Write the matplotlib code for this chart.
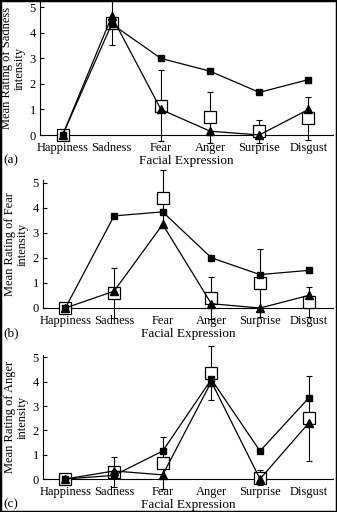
import numpy as np
import matplotlib.pyplot as plt
from matplotlib.patches import Rectangle

plt.rcParams["font.family"] = ["Liberation Serif", "DejaVu Serif"]

expressions = ["Happiness", "Sadness", "Fear", "Anger", "Surprise", "Disgust"]
yticks = [0, 1, 2, 3, 4, 5]

# (a) sadness intensity
sad_filled = [0, 4.35, 3.0, 2.5, 1.67, 2.17]
sad_triangle = [0, 4.65, 1.0, 0.15, 0.0, 1.0]
sad_open = [0, 4.4, 1.15, 0.7, 0.15, 0.65]
sad_err = [0, 0.87, 1.4, 1.0, 0.45, 0.85]

# (b) fear intensity
fear_filled = [0, 3.67, 3.83, 2.0, 1.33, 1.5]
fear_triangle = [0, 0.67, 3.33, 0.17, 0.0, 0.5]
fear_open = [0, 0.6, 4.4, 0.4, 1.0, 0.25]
fear_err = [0, 1.0, 1.1, 0.85, 1.37, 0.6]

# (c) anger intensity
ang_filled = [0, 0.15, 1.15, 4.1, 1.15, 3.33]
ang_triangle = [0, 0.33, 0.17, 4.0, 0.0, 2.3]
ang_open = [0, 0.3, 0.65, 4.35, 0.05, 2.5]
ang_err = [0, 0.62, 1.07, 1.1, 0.3, 1.75]

W, H = 337, 512
fig = plt.figure(figsize=(W / 100, H / 100), dpi=100)

# panel layout in pixels: left, right, y of zero line, y of top, ylim top
panels = [
    ("(a)", "Sadness", sad_filled, sad_triangle, sad_open, sad_err, 40, 333, 135, 1, 5.25),
    ("(b)", "Fear", fear_filled, fear_triangle, fear_open, fear_err, 43, 333, 308, 180, 5.1),
    ("(c)", "Anger", ang_filled, ang_triangle, ang_open, ang_err, 43, 333, 479, 355, 5.1),
]

x = np.arange(len(expressions))
for tag, emo, filled, tri, opn, err, lpx, rpx, y0px, ytpx, ytop in panels:
    ax = fig.add_axes([lpx / W, 1 - y0px / H, (rpx - lpx) / W, (y0px - ytpx) / H])
    eb = ax.errorbar(x[1:], opn[1:], yerr=err[1:], fmt="none", ecolor="black",
                     elinewidth=0.8, capsize=2.5, capthick=0.8, zorder=2)
    for artist in eb.lines[1] + eb.lines[2]:
        artist.set_clip_on(False)
    ax.plot(x, opn, ls="none", marker="s", ms=8, mfc="white", mec="black",
            mew=0.9, zorder=3, clip_on=False)
    ax.plot(x, tri, color="black", lw=0.9, marker="^", ms=6, zorder=4, clip_on=False)
    ax.plot(x, filled, color="black", lw=0.9, marker="s", ms=5, zorder=5, clip_on=False)
    ax.set_xlim(-0.46, 5.5)
    ax.set_ylim(0, ytop)
    ax.set_yticks(yticks)
    ax.set_xticks(x)
    ax.set_xticklabels(expressions, fontsize=9)
    ax.tick_params(axis="x", length=0, pad=5)
    ax.tick_params(axis="y", direction="in", length=3, labelsize=9, pad=3)
    ax.spines["top"].set_visible(False)
    ax.spines["right"].set_visible(False)
    ax.set_ylabel(f"Mean Rating of {emo}\nintensity", fontsize=9, linespacing=1.0, labelpad=3)
    ax.set_xlabel("Facial Expression", fontsize=9.5, labelpad=1)
    fig.text(3 / W, 1 - (y0px + 25) / H, tag, fontsize=9.5, va="center", ha="left")

fig.patches.append(Rectangle((0, 0), 1, 1, transform=fig.transFigure, fill=False,
                             edgecolor="black", lw=2.5))
fig.savefig("out.png", dpi=100)
